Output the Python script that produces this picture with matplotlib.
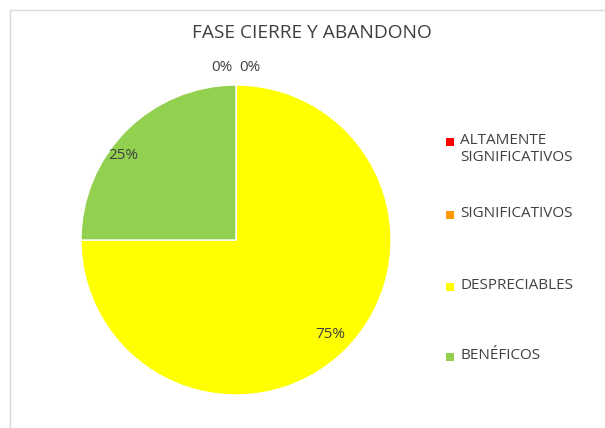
import numpy as np
import matplotlib
matplotlib.use('Agg')
import matplotlib.pyplot as plt
from matplotlib.patches import Rectangle

# ── data ──────────────────────────────────────────────────────────────────────
categories = ['ALTAMENTE\nSIGNIFICATIVOS', 'SIGNIFICATIVOS', 'DESPRECIABLES', 'BENÉFICOS']
values = [0, 0, 75, 25]
colors = ['#FF0000', '#FF9900', '#FFFF00', '#92D050']
title = 'FASE CIERRE Y ABANDONO'

plt.rcParams['font.family'] = ['Open Sans', 'DejaVu Sans']

W, H = 605, 428
fig = plt.figure(figsize=(W / 100, H / 100), dpi=100)

# light frame around chart area
fig.add_artist(plt.Line2D([10 / W, 1], [1 - 10 / H, 1 - 10 / H], color='#D9D9D9', lw=1))
fig.add_artist(plt.Line2D([10 / W, 10 / W], [0, 1 - 10 / H], color='#D9D9D9', lw=1))

# pie: center (236, 240), radius 155 px
cx, cy, r = 236, 240, 155
ax = fig.add_axes([(cx - r) / W, 1 - (cy + r) / H, 2 * r / W, 2 * r / H])
wedges, _ = ax.pie(values, colors=colors, startangle=90, counterclock=False,
                   radius=1, wedgeprops=dict(linewidth=1, edgecolor='white'))
ax.set_xlim(-1, 1)
ax.set_ylim(-1, 1)
ax.set_aspect('equal')
ax.axis('off')

# data labels (label distance / angle nudge per slice, like Excel's best fit)
total = sum(values)
lab_dist = [1.11, 1.11, 0.86, 0.91]
lab_shift = [0, 0, 0, 8]
zero_dx = [-0.09, 0.09]
zi = 0
for w, v, d, sh in zip(wedges, values, lab_dist, lab_shift):
    pct = f'{round(100 * v / total)}%'
    if v == 0:
        ax.text(zero_dx[zi], d, pct, ha='center', va='center', fontsize=11, color='#404040')
        zi += 1
    else:
        mid = np.deg2rad((w.theta1 + w.theta2) / 2 + sh)
        ax.text(d * np.cos(mid), d * np.sin(mid), pct, ha='center', va='center',
                fontsize=11, color='#404040')

fig.text(312 / W, 1 - 33 / H, title, ha='center', va='center', fontsize=13.8, color='#404040')

# legend entries
leg_y = [142, 215, 287, 357]
for lab, col, y in zip(categories, colors, leg_y):
    fig.add_artist(Rectangle((446 / W, 1 - (y + 4) / H), 8 / W, 8 / H,
                             facecolor=col, edgecolor='none', transform=fig.transFigure))
    fig.text(460 / W, 1 - (y - 9) / H, lab, ha='left', va='top', fontsize=11,
             color='#404040', linespacing=1.2)

fig.savefig('out.png', dpi=100)
